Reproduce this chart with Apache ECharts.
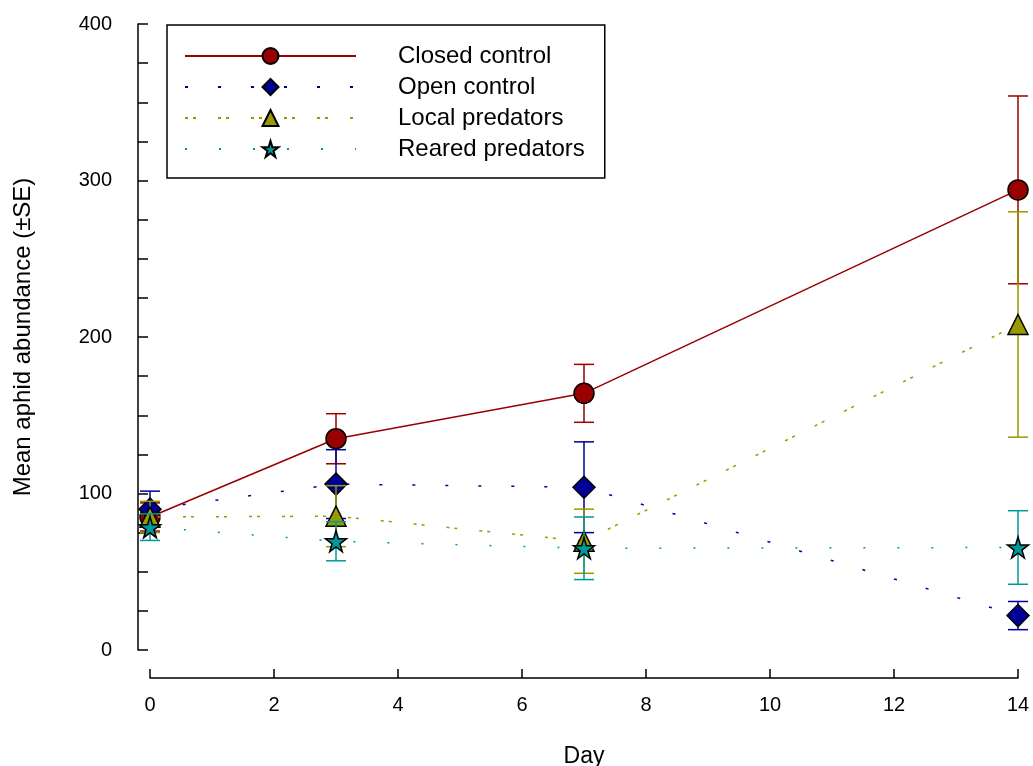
<!DOCTYPE html>
<html>
<head>
<meta charset="utf-8">
<script src="https://cdn.jsdelivr.net/npm/echarts@6/dist/echarts.min.js"></script>
<style>
html, body { margin: 0; padding: 0; background: #fff; }
#main { width: 1033px; height: 766px; }
</style>
</head>
<body>
<div id="main"></div>
<script>
// days sampled
var days = [0, 3, 7, 14];

var closedMean = [85, 135, 164, 294];
var closedSE = [9, 16, 18.5, 60];
var openMean = [90, 106, 104, 22];
var openSE = [11.5, 22, 29, 9];
var localMean = [85, 85.5, 69.5, 208];
var localSE = [10, 19.5, 20.5, 72];
var rearedMean = [78.5, 69.5, 65, 65.5];
var rearedSE = [8.5, 12.5, 20, 23.5];

var yTicks = [0, 100, 200, 300, 400];

var starPath = 'path://M50,0 L61,35 L98,35 L68,57 L79,91 L50,70 L21,91 L32,57 L2,35 L39,35 Z';

function pts(mean) {
    return days.map(function (d, i) { return [d, mean[i]]; });
}
function bars(mean, se) {
    return days.map(function (d, i) { return [d, mean[i] - se[i], mean[i] + se[i]]; });
}

function errSeries(name, color, mean, se, z) {
    return {
        name: name,
        type: 'custom',
        z: z,
        data: bars(mean, se),
        renderItem: function (params, api) {
            var lo = api.coord([api.value(0), api.value(1)]);
            var hi = api.coord([api.value(0), api.value(2)]);
            var w = 10;
            var st = { stroke: color, lineWidth: 1.5 };
            return {
                type: 'group',
                children: [
                    { type: 'line', shape: { x1: lo[0], y1: lo[1], x2: hi[0], y2: hi[1] }, style: st },
                    { type: 'line', shape: { x1: lo[0] - w, y1: lo[1], x2: lo[0] + w, y2: lo[1] }, style: st },
                    { type: 'line', shape: { x1: hi[0] - w, y1: hi[1], x2: hi[0] + w, y2: hi[1] }, style: st }
                ]
            };
        }
    };
}

function lineSeries(name, color, mean, symbol, size, dash, z) {
    return {
        name: name,
        type: 'line',
        z: z,
        data: pts(mean),
        symbol: symbol,
        symbolSize: size,
        lineStyle: { color: color, width: 1.5, type: dash },
        itemStyle: { color: color, borderColor: '#000', borderWidth: 1.5 }
    };
}

var chart = echarts.init(document.getElementById('main'));
chart.setOption({
    animation: false,
    backgroundColor: '#fff',
    textStyle: { fontFamily: 'Liberation Sans, Arial, sans-serif' },
    grid: { left: 150, right: 15, top: 24, bottom: 116, containLabel: false, outerBoundsMode: 'none' },
    legend: {
        left: 167, top: 25,
        orient: 'vertical',
        data: ['Closed control', 'Open control', 'Local predators', 'Reared predators'],
        itemWidth: 171, itemHeight: 20, itemGap: 7,
        padding: [19, 20, 17, 17],
        borderColor: '#000', borderWidth: 1.5,
        textStyle: { fontSize: 24, color: '#000', padding: [0, 0, 0, 37] }
    },
    xAxis: {
        type: 'value', min: 0, max: 14, interval: 2,
        offset: 28,
        name: 'Day', nameLocation: 'middle', nameGap: 67,
        nameTextStyle: { fontSize: 23, color: '#000' },
        axisLine: { onZero: false, lineStyle: { color: '#000', width: 1.5 } },
        axisTick: { inside: true, length: 9, lineStyle: { color: '#000', width: 1.5 } },
        axisLabel: { fontSize: 20, color: '#000', margin: 17 },
        splitLine: { show: false }
    },
    yAxis: {
        type: 'value', min: 0, max: 400, interval: 25,
        offset: 12,
        name: 'Mean aphid abundance (±SE)', nameLocation: 'middle', nameGap: 103,
        nameTextStyle: { fontSize: 24, color: '#000' },
        axisLine: { show: true, onZero: false, lineStyle: { color: '#000', width: 1.5 } },
        axisTick: { show: true, inside: true, length: 10, lineStyle: { color: '#000', width: 1.5 } },
        axisLabel: {
            fontSize: 20, color: '#000', margin: 26,
            formatter: function (v) { return yTicks.indexOf(v) >= 0 ? String(v) : ''; }
        },
        splitLine: { show: false }
    },
    series: [
        errSeries('Closed err', '#990000', closedMean, closedSE, 2),
        lineSeries('Closed control', '#990000', closedMean, 'circle', 20, 'solid', 3),
        errSeries('Open err', '#000099', openMean, openSE, 4),
        lineSeries('Open control', '#000099', openMean, 'diamond', 22, [3, 30], 5),
        errSeries('Local err', '#999900', localMean, localSE, 6),
        lineSeries('Local predators', '#999900', localMean, 'triangle', 20, [3, 5, 3, 22], 7),
        errSeries('Reared err', '#009999', rearedMean, rearedSE, 8),
        lineSeries('Reared predators', '#009999', rearedMean, starPath, 21, [2, 32], 9)
    ]
});
</script>
</body>
</html>
